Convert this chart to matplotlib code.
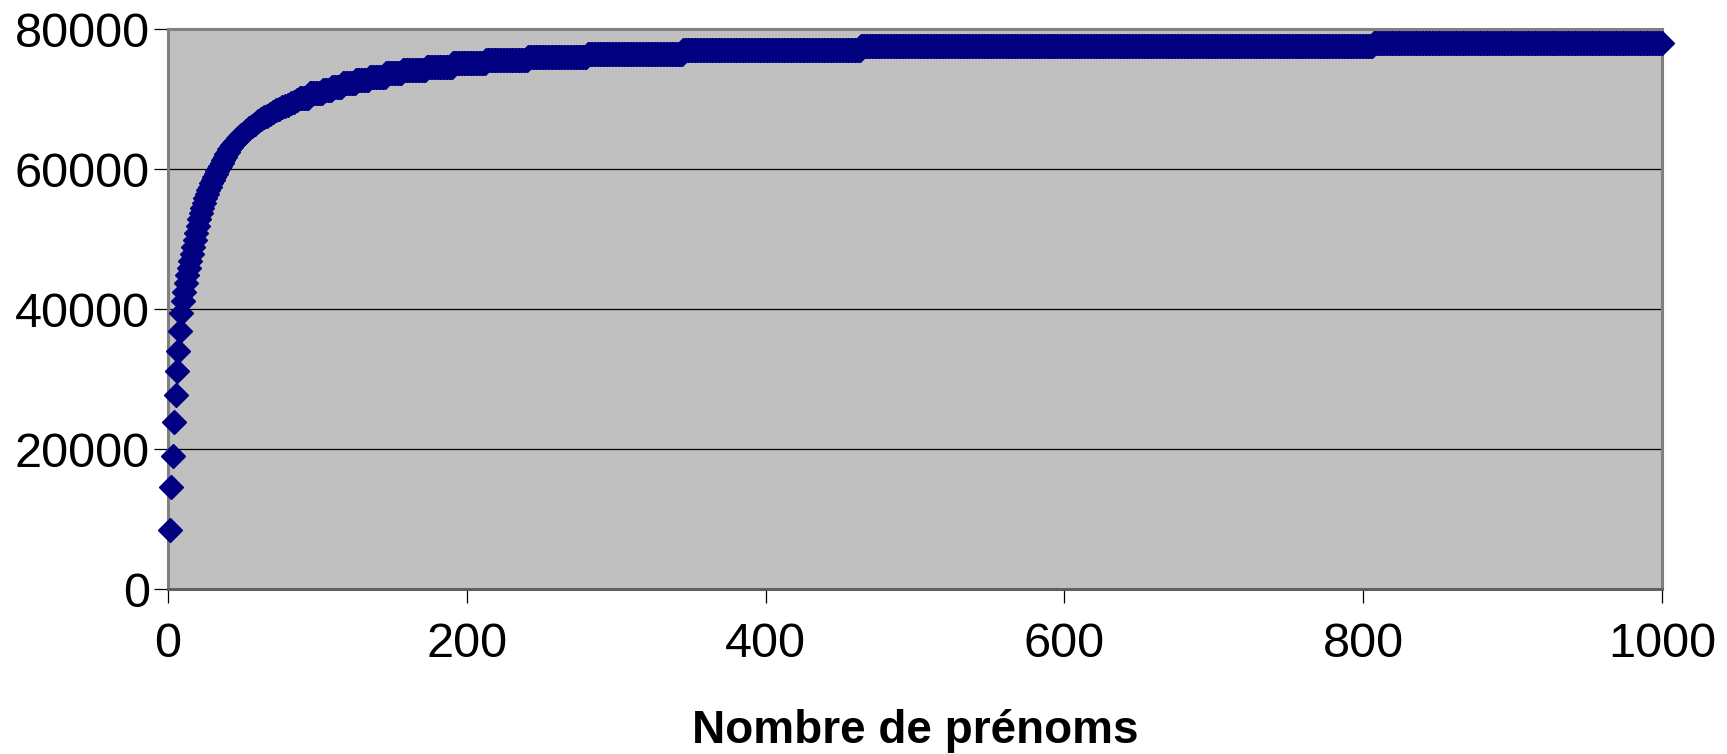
import numpy as np
import matplotlib
matplotlib.use('Agg')
import matplotlib.pyplot as plt

head_ranks = list(range(1, 51)) + list(range(52, 88, 2))
head_counts = [
    8400, 14600, 19000, 23800, 27700, 31100, 34000, 36900, 39400, 41200,
    42500, 43700, 44800, 45900, 46900, 47900, 48900, 49900, 50900, 51900,
    52800, 53700, 54400, 55100, 55800, 56400, 57000, 57500, 58000, 58500,
    58900, 59300, 59700, 60100, 60500, 60900, 61300, 61700, 62100, 62500,
    62800, 63100, 63400, 63700, 63900, 64200, 64400, 64600, 64800, 65000,
    65400, 65800, 66100, 66500, 66800, 67100, 67400, 67600, 67900, 68100,
    68400, 68600, 68800, 69000, 69200, 69400, 69600, 69800,
]

# flat part: the band is drawn as plateaus, each starting at a rank
plateau_start = [88, 95, 104, 110, 117, 126, 135, 146, 157, 173, 191, 213, 241, 281, 345, 464, 807]
plateau_level = [70100, 70800, 71300, 71750, 72250, 72700, 73200, 73650, 74150,
                 74600, 75100, 75550, 76050, 76500, 77000, 77550, 78050]
last_rank = 1000

x_ticks = [0, 200, 400, 600, 800, 1000]
y_ticks = [0, 20000, 40000, 60000, 80000]
x_label = 'Nombre de prénoms'

MARKER_COLOR = '#000080'
PLOT_BG = '#C0C0C0'
BORDER = '#808080'

plt.rcParams['font.family'] = ['Liberation Sans', 'DejaVu Sans']

ends = plateau_start[1:] + [last_rank + 1]
tail_ranks = np.concatenate([np.arange(s, e) for s, e in zip(plateau_start, ends)])
tail_counts = np.repeat(plateau_level, np.diff(plateau_start + [last_rank + 1]))

ranks = np.concatenate([head_ranks, tail_ranks])
counts = np.concatenate([head_counts, tail_counts])

fig = plt.figure(figsize=(17.27, 7.54), dpi=100)
ax = fig.add_axes([0.0973, 0.2188, 0.9624 - 0.0973, 0.9615 - 0.2188])
ax.set_facecolor(PLOT_BG)

ax.plot(ranks, counts, linestyle='none', marker='D', markersize=12,
        markerfacecolor=MARKER_COLOR, markeredgecolor=MARKER_COLOR,
        markeredgewidth=1, clip_on=False, zorder=5)

ax.set_xlim(0, 1000)
ax.set_ylim(0, 80000)
ax.set_xticks(x_ticks)
ax.set_yticks(y_ticks)
ax.yaxis.grid(True, color='black', linewidth=0.9)
ax.set_axisbelow(True)

for side in ['top', 'right', 'left']:
    ax.spines[side].set_color(BORDER)
    ax.spines[side].set_linewidth(2.2)
ax.spines['bottom'].set_color('#606060')
ax.spines['bottom'].set_linewidth(2.2)

ax.tick_params(axis='both', direction='out', length=10, width=0.9, color='black',
               labelsize=35, labelcolor='black')
ax.tick_params(axis='y', pad=3)
ax.tick_params(axis='x', pad=14)

ax.set_xlabel(x_label, fontsize=33, fontweight='bold', labelpad=30)

fig.savefig('out.png', dpi=100, facecolor='white')
